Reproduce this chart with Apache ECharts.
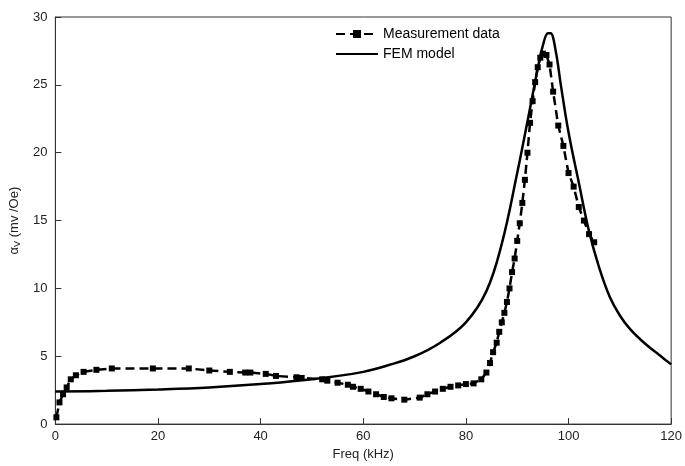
<!DOCTYPE html>
<html>
<head>
<meta charset="utf-8">
<script src="https://cdn.jsdelivr.net/npm/echarts@6/dist/echarts.min.js"></script>
</head>
<body style="margin:0">
<div id="chart" style="width:685px;height:466px"></div>
<script>
var measFreq = [0.2,0.8,1.5,2.2,3,4,5.5,8,11,19,26,30,34,37,38,41,43,47,48,52,53,55,57,58,59.5,61,62.5,64,65.5,68,71,72.5,74,75.5,77,78.5,80,81.5,83,84,84.7,85.3,86,86.5,87,87.5,88,88.5,89,89.5,90,90.5,91,91.5,92,92.5,93,93.5,94,94.5,95,95.7,96.3,97,98,99,100,101,102,103,104,105];
var measVal = [0.5,1.6,2.2,2.7,3.3,3.6,3.85,4.0,4.1,4.1,4.1,3.95,3.85,3.8,3.8,3.7,3.55,3.45,3.4,3.3,3.2,3.05,2.9,2.75,2.6,2.4,2.2,2.0,1.9,1.8,1.95,2.2,2.4,2.6,2.75,2.85,2.95,3.0,3.3,3.8,4.5,5.3,6.0,6.8,7.5,8.2,9.0,10,11.2,12.2,13.5,14.8,16.3,18.0,20.0,22.2,23.8,25.2,26.3,27.0,27.3,27.2,26.5,24.5,22,20.5,18.5,17.5,16,15,14,13.4];
var femFreq = [0,10,20,30,40,50,60,65,70,75,80,84,87,90,92,94,95,96,96.5,97.5,98.5,100,102,104,106,108,110,112,115,118,120];
var femVal = [2.4,2.45,2.55,2.7,2.95,3.3,3.85,4.35,5.0,6.0,7.5,9.8,13.3,18.5,22.3,26.2,27.9,28.8,28.8,27.5,25,21.5,17.8,14.2,11.5,9.4,8.0,7.0,5.9,5.0,4.4];

function pairs(xs, ys) { return xs.map(function (x, i) { return [x, ys[i]]; }); }

var chart = echarts.init(document.getElementById('chart'));
chart.setOption({
  animation: false,
  textStyle: { fontFamily: 'Liberation Sans, Arial' },
  grid: { left: 47, right: 13, top: 17, bottom: 41, show: true, borderColor: '#333', borderWidth: 1 },
  legend: {
    top: 22, left: 330, orient: 'vertical', itemWidth: 42, itemHeight: 10, itemGap: 6,
    textStyle: { fontSize: 14, color: '#000' },
    data: ['Measurement data', { name: 'FEM model', itemStyle: { opacity: 0 } }]
  },
  xAxis: {
    type: 'value', min: 0, max: 120, interval: 20,
    name: 'Freq (kHz)', nameLocation: 'middle', nameGap: 18,
    nameTextStyle: { fontSize: 13, color: '#222' },
    axisLine: { lineStyle: { color: '#333' } },
    axisTick: { inside: true, length: 6 },
    axisLabel: { color: '#222', fontSize: 13, margin: 6 },
    splitLine: { show: false }
  },
  yAxis: {
    type: 'value', min: 0, max: 30, interval: 5,
    name: '{a|α}{s|V}{a| (mv /Oe)}', nameLocation: 'middle', nameGap: 26,
    nameTextStyle: { rich: { a: { fontSize: 13, color: '#222' }, s: { fontSize: 9, color: '#222', verticalAlign: 'bottom', padding: [6, 0, 0, 0] } } },
    axisLine: { lineStyle: { color: '#333' } },
    axisTick: { inside: true, length: 6 },
    axisLabel: { color: '#222', fontSize: 13, margin: 8 },
    splitLine: { show: false }
  },
  series: [
    {
      name: 'Measurement data', type: 'line', data: pairs(measFreq, measVal),
      symbol: 'rect', symbolSize: 6, showSymbol: true,
      itemStyle: { color: '#000' },
      lineStyle: { color: '#000', width: 2.5, type: [9, 5] }
    },
    {
      name: 'FEM model', type: 'line', data: pairs(femFreq, femVal), smooth: 0.4,
      symbol: 'none',
      itemStyle: { color: '#000' },
      lineStyle: { color: '#000', width: 2.5 }
    }
  ]
});
</script>
</body>
</html>
